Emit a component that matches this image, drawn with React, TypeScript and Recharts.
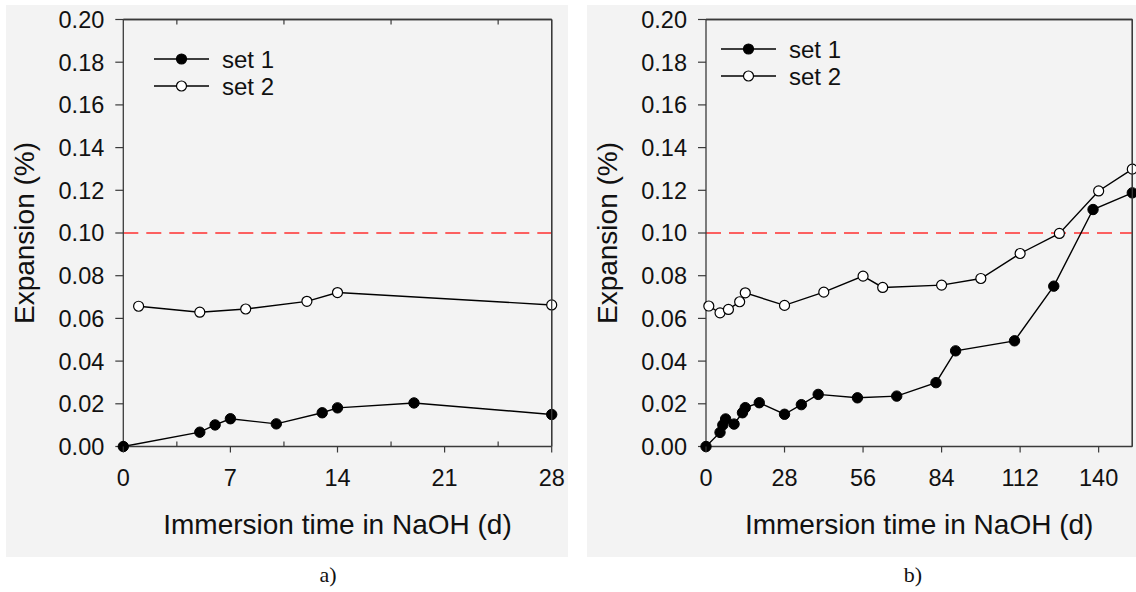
import React from 'react';
import { LineChart, Line, XAxis, YAxis, ReferenceLine, Legend } from 'recharts';

// ---------- data ----------
const daysA1 = [0, 5, 6, 7, 10, 13, 14, 19, 28];
const set1A = [0, 0.0067, 0.0101, 0.013, 0.0106, 0.0158, 0.0181, 0.0204, 0.015];
const daysA2 = [1, 5, 8, 12, 14, 28];
const set2A = [0.0657, 0.0629, 0.0644, 0.068, 0.0721, 0.0663];

const daysB1 = [0, 5, 6, 7, 10, 13, 14, 19, 28, 34, 40, 54, 68, 82, 89, 110, 124, 138, 152];
const set1B = [0, 0.0066, 0.0101, 0.0129, 0.0105, 0.0158, 0.0182, 0.0205, 0.0151, 0.0196, 0.0244, 0.0228, 0.0236, 0.0299, 0.0448, 0.0495, 0.0751, 0.111, 0.1188];
const daysB2 = [1, 5, 8, 12, 14, 28, 42, 56, 63, 84, 98, 112, 126, 140, 152];
const set2B = [0.0658, 0.0626, 0.0642, 0.0678, 0.072, 0.0661, 0.0723, 0.0798, 0.0745, 0.0756, 0.0787, 0.0904, 0.0998, 0.1197, 0.1299];

const yTicks = [0, 0.02, 0.04, 0.06, 0.08, 0.1, 0.12, 0.14, 0.16, 0.18, 0.2];
const xTicksA = [0, 7, 14, 21, 28];
const xMinorA = [3.5, 10.5, 17.5, 24.5];
const xTicksB = [0, 28, 56, 84, 112, 140];
const seriesNames = ['set 1', 'set 2'];
const limitValue = 0.1;
const yMax = 0.2;

const toPts = (xs: number[], ys: number[]) => xs.map((d, i) => ({ d, v: ys[i] }));

const FONT = '"Liberation Sans", Arial, Helvetica, sans-serif';
const AXIS = '#3a3a3a';
const TICK = 6;
const YTICK = 8;
const YMARGIN = 11;
const PLOT_TOP = 19.5;
const PLOT_BOTTOM = 446.5;
const PLOT_H = PLOT_BOTTOM - PLOT_TOP;

// y tick: label + (at the top value) the top frame of the plot box
const makeYTick = (plotW: number) => (p: any) => {
  const v = Number(p.payload.value);
  const axisX = p.x + YTICK + YMARGIN;
  return (
    <g>
      <text x={p.x} y={p.y} dy={8.4} textAnchor="end" fontSize={23.5} fontFamily={FONT} fill="#111">
        {v.toFixed(2)}
      </text>
      {v === yMax && <line x1={axisX} x2={axisX + plotW} y1={p.y} y2={p.y} stroke={AXIS} strokeWidth={1.3} />}
    </g>
  );
};

// x tick: majors (label + outward tick), minors (inward ticks, bottom and top), domain end (right frame)
const makeXTick = (majors: number[], xEnd: number) => (p: any) => {
  const v = Number(p.payload.value);
  const axisY = p.y - TICK;
  const topY = axisY - PLOT_H;
  const isMajor = majors.indexOf(v) >= 0;
  return (
    <g>
      {v === xEnd && <line x1={p.x} x2={p.x} y1={axisY} y2={topY} stroke={AXIS} strokeWidth={1.3} />}
      {isMajor && <line x1={p.x} x2={p.x} y1={axisY} y2={axisY + TICK} stroke={AXIS} strokeWidth={1.2} />}
      {isMajor && (
        <text x={p.x} y={p.y} dy={33} textAnchor="middle" fontSize={23.5} fontFamily={FONT} fill="#111">
          {v}
        </text>
      )}
      {!isMajor && v !== xEnd && (
        <g>
          <line x1={p.x} x2={p.x} y1={axisY} y2={axisY - 5} stroke={AXIS} strokeWidth={1.2} />
          <line x1={p.x} x2={p.x} y1={topY} y2={topY + 5} stroke={AXIS} strokeWidth={1.2} />
        </g>
      )}
    </g>
  );
};

const LegendBox = () => (
  <svg width={140} height={64} style={{ display: 'block', overflow: 'visible' }}>
    {seriesNames.map((n, i) => {
      const y = 14 + i * 27;
      return (
        <g key={n}>
          <line x1={0} x2={55} y1={y} y2={y} stroke="#000" strokeWidth={1.4} />
          <circle cx={27.5} cy={y} r={5} fill={i === 0 ? '#000' : '#fff'} stroke="#000" strokeWidth={1.2} />
          <text x={68} y={y + 8.5} fontSize={24} fontFamily={FONT} fill="#111">{n}</text>
        </g>
      );
    })}
  </svg>
);

type PanelProps = {
  left: number;
  width: number;
  height: number;
  margin: { top: number; right: number; bottom: number; left: number };
  domain: [number, number];
  ticks: number[];
  minor: number[];
  s1: { d: number; v: number }[];
  s2: { d: number; v: number }[];
  xTitle: string;
  yTitleX: number;
  legendPos: { left: number; top: number };
  caption: string;
  captionX: number;
};

function Panel(pp: PanelProps) {
  const xEnd = pp.domain[1];
  const set = new Set([...pp.ticks, ...pp.minor, xEnd]);
  const allTicks = Array.from(set).sort((a, b) => a - b);
  const plotW = pp.width - pp.margin.left - 60 - pp.margin.right;
  return (
    <div style={{ position: 'absolute', left: pp.left, top: 0, width: pp.width, height: pp.height }}>
      <LineChart width={pp.width} height={pp.height} margin={pp.margin}>
        <XAxis
          xAxisId="main"
          type="number"
          dataKey="d"
          domain={pp.domain}
          ticks={allTicks}
          interval={0}
          height={30}
          tickSize={TICK}
          tickMargin={0}
          stroke={AXIS}
          strokeWidth={1.3}
          tickLine={false}
          tick={makeXTick(pp.ticks, xEnd)}
          label={{
            content: (lp: any) => {
              const vb = lp.viewBox || {};
              return (
                <text x={vb.x + vb.width / 2} y={vb.y + 87.5} textAnchor="middle" fontSize={28} fontFamily={FONT} fill="#111">
                  {pp.xTitle}
                </text>
              );
            },
          }}
        />
        <YAxis
          yAxisId="main"
          type="number"
          domain={[0, yMax]}
          ticks={yTicks}
          interval={0}
          width={60}
          tickSize={YTICK}
          tickMargin={YMARGIN}
          stroke={AXIS}
          strokeWidth={1.3}
          tickLine={{ stroke: AXIS, strokeWidth: 1.2 }}
          tick={makeYTick(plotW)}
          label={{
            content: (lp: any) => {
              const vb = lp.viewBox || {};
              const cy = vb.y + vb.height / 2;
              return (
                <text
                  x={pp.yTitleX}
                  y={cy}
                  transform={`rotate(-90, ${pp.yTitleX}, ${cy})`}
                  textAnchor="middle"
                  fontSize={28}
                  fontFamily={FONT}
                  fill="#111"
                >
                  Expansion (%)
                </text>
              );
            },
          }}
        />
        <ReferenceLine xAxisId="main" yAxisId="main" y={yMax} stroke={AXIS} strokeWidth={1.3} ifOverflow="visible" />
        <ReferenceLine xAxisId="main" yAxisId="main" x={xEnd} stroke={AXIS} strokeWidth={1.3} ifOverflow="visible" />
        <ReferenceLine
          xAxisId="main"
          yAxisId="main"
          y={limitValue}
          stroke="#ff3030"
          strokeWidth={1.5}
          strokeDasharray="15 8"
        />
        <Line
          xAxisId="main"
          yAxisId="main"
          data={pp.s2}
          dataKey="v"
          name={seriesNames[1]}
          type="linear"
          stroke="#000"
          strokeWidth={1.4}
          dot={{ r: 5, fill: '#fff', stroke: '#000', strokeWidth: 1.2 }}
          isAnimationActive={false}
        />
        <Line
          xAxisId="main"
          yAxisId="main"
          data={pp.s1}
          dataKey="v"
          name={seriesNames[0]}
          type="linear"
          stroke="#000"
          strokeWidth={1.4}
          dot={{ r: 5.2, fill: '#000', stroke: '#000', strokeWidth: 1 }}
          isAnimationActive={false}
        />
        <Legend
          layout="vertical"
          align="center"
          verticalAlign="middle"
          wrapperStyle={{ left: pp.legendPos.left, top: pp.legendPos.top, width: 140, height: 64 }}
          content={() => <LegendBox />}
        />
      </LineChart>
      <div
        style={{
          position: 'absolute',
          left: pp.captionX - 40,
          width: 80,
          top: 563,
          textAlign: 'center',
          fontFamily: '"Liberation Serif", "Times New Roman", serif',
          fontSize: 22,
          lineHeight: '24px',
          color: '#111',
        }}
      >
        {pp.caption}
      </div>
    </div>
  );
}

export default function App() {
  return (
    <div style={{ position: 'absolute', left: 0, top: 0, width: 1136, height: 592, background: '#fff', overflow: 'hidden' }}>
      <div style={{ position: 'absolute', left: 6, top: 5, width: 562, height: 552, background: '#f3f3f3' }} />
      <div style={{ position: 'absolute', left: 587, top: 5, width: 549, height: 552, background: '#f3f3f3' }} />
      <Panel
        left={0}
        width={568}
        height={592}
        margin={{ top: PLOT_TOP, right: 16.3, bottom: 592 - PLOT_BOTTOM - 30, left: 63.3 }}
        domain={[0, 28]}
        ticks={xTicksA}
        minor={xMinorA}
        s1={toPts(daysA1, set1A)}
        s2={toPts(daysA2, set2A)}
        xTitle="Immersion time in NaOH (d)"
        yTitleX={34}
        legendPos={{ left: 154, top: 45 }}
        caption="a)"
        captionX={328}
      />
      <Panel
        left={576}
        width={560}
        height={592}
        margin={{ top: PLOT_TOP, right: 560 - 556.3, bottom: 592 - PLOT_BOTTOM - 30, left: 130 - 60 }}
        domain={[0, 152]}
        ticks={xTicksB}
        minor={[]}
        s1={toPts(daysB1, set1B)}
        s2={toPts(daysB2, set2B)}
        xTitle="Immersion time in NaOH  (d)"
        yTitleX={41}
        legendPos={{ left: 145, top: 35 }}
        caption="b)"
        captionX={337}
      />
    </div>
  );
}
